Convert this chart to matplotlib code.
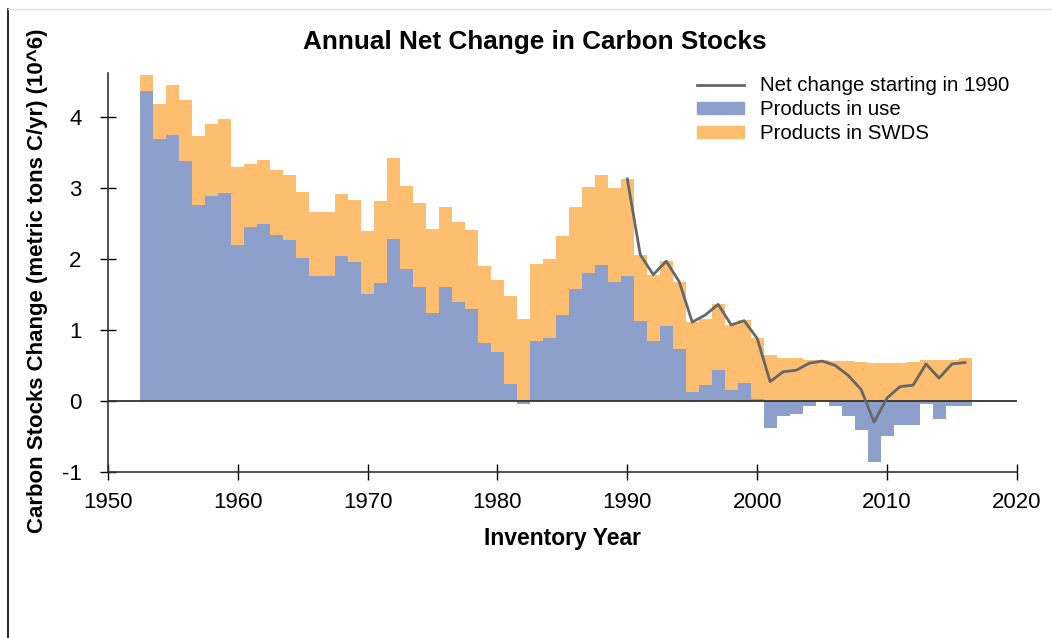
import numpy as np
import matplotlib
matplotlib.use("Agg")
import matplotlib.pyplot as plt
from matplotlib.lines import Line2D
from matplotlib.patches import Patch

plt.rcParams['font.family'] = ['Liberation Sans', 'DejaVu Sans']
plt.rcParams['axes.unicode_minus'] = False

# values (10^6 metric tons C/yr)
years = list(range(1953, 2017))
in_use = [4.37, 3.69, 3.75, 3.38, 2.76, 2.89, 2.93, 2.20, 2.45, 2.49,
          2.34, 2.27, 2.02, 1.76, 1.76, 2.04, 1.96, 1.51, 1.66, 2.28,
          1.86, 1.60, 1.24, 1.60, 1.39, 1.30, 0.82, 0.69, 0.24, -0.04,
          0.85, 0.89, 1.21, 1.58, 1.80, 1.92, 1.67, 1.76, 1.12, 0.85,
          1.05, 0.73, 0.12, 0.22, 0.43, 0.15, 0.25, 0.03, -0.38, -0.21,
          -0.18, -0.07, -0.01, -0.07, -0.22, -0.41, -0.86, -0.50, -0.34, -0.34,
          -0.04, -0.26, -0.07, -0.07]
in_swds = [0.23, 0.50, 0.70, 0.86, 0.97, 1.02, 1.05, 1.10, 0.89, 0.91,
           0.91, 0.91, 0.92, 0.91, 0.90, 0.88, 0.87, 0.88, 1.16, 1.15,
           1.17, 1.19, 1.18, 1.13, 1.13, 1.11, 1.08, 1.01, 1.24, 1.16,
           1.08, 1.11, 1.11, 1.15, 1.21, 1.27, 1.33, 1.37, 0.94, 0.93,
           0.92, 0.94, 0.99, 0.94, 0.93, 0.92, 0.89, 0.85, 0.64, 0.60,
           0.60, 0.57, 0.57, 0.56, 0.56, 0.55, 0.54, 0.53, 0.54, 0.55,
           0.57, 0.58, 0.58, 0.60]
net_years = list(range(1990, 2017))
net_change = [3.13, 2.06, 1.78, 1.97, 1.68, 1.11, 1.21, 1.36, 1.07, 1.13,
              0.88, 0.27, 0.41, 0.43, 0.53, 0.56, 0.50, 0.36, 0.16, -0.30,
              0.04, 0.20, 0.22, 0.52, 0.32, 0.52, 0.54]

blue = '#8da0cb'
orange = '#fdbf6f'

fig = plt.figure(figsize=(10.52, 6.38), dpi=100)
ax = fig.add_axes([0.1024, 0.2607, 0.8643, 0.6244])

use_arr = np.array(in_use)
ax.bar(years, in_use, width=1.0, color=blue, linewidth=0)
ax.bar(years, in_swds, width=1.0, bottom=np.maximum(use_arr, 0), color=orange, linewidth=0)
ax.axhline(0, color='#333333', lw=1.3, zorder=3)
ax.plot(net_years, net_change, color='#666666', lw=2, zorder=4)

ax.set_xlim(1950, 2020)
ax.set_ylim(-1, 4.62)
ax.set_xticks(range(1950, 2021, 10))
ax.set_yticks(range(-1, 5))
ax.tick_params(direction='inout', length=11.5, width=1, labelsize=16, colors='black')
ax.tick_params(axis='y', pad=13)
ax.tick_params(axis='x', pad=9)
for s in ['top', 'right']:
    ax.spines[s].set_visible(False)
for s in ['left', 'bottom']:
    ax.spines[s].set_color('#333333')
    ax.spines[s].set_linewidth(1.2)

ax.set_ylabel('Carbon Stocks Change (metric tons C/yr) (10^6)', fontsize=16, fontweight='bold')
ax.yaxis.set_label_coords(-0.066, 0.48)
ax.set_xlabel('Inventory Year', fontsize=16.5, fontweight='bold')
ax.xaxis.set_label_coords(0.5, -0.14)

fig.text(535 / 1052, 1 - 42 / 638, 'Annual Net Change in Carbon Stocks',
         fontsize=18.8, fontweight='bold', ha='center', va='center')

handles = [Line2D([], [], color='#666666', lw=2),
           Patch(color=blue), Patch(color=orange)]
labels = ['Net change starting in 1990', 'Products in use', 'Products in SWDS']
ax.legend(handles, labels, loc='upper left', bbox_to_anchor=(687 / 1052, 1 - 66 / 638),
          bbox_transform=fig.transFigure, frameon=False, fontsize=14.7,
          borderpad=0, handlelength=2.3, handleheight=0.5, handletextpad=0.8,
          labelspacing=0.25)

# screenshot frame
fig.add_artist(Line2D([8 / 1052, 8 / 1052], [0, 1 - 9 / 638], color='black', lw=1.2))
fig.add_artist(Line2D([8 / 1052, 1], [1 - 9 / 638, 1 - 9 / 638], color='#dddddd', lw=1))

fig.savefig('out.png', dpi=100)
